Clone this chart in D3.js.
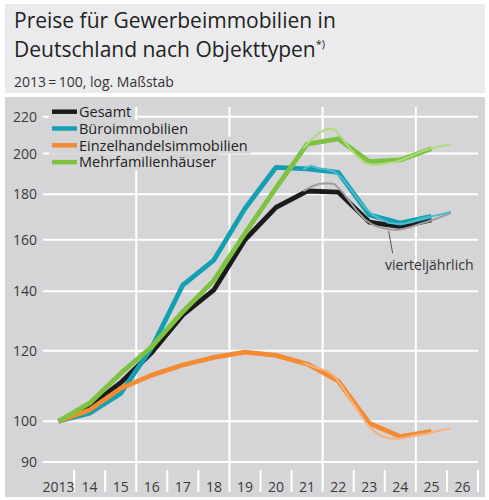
<!DOCTYPE html>
<html>
<head>
<meta charset="utf-8">
<script src="https://cdn.jsdelivr.net/npm/d3@7"></script>
<style>
  body { margin: 0; background: #fff; }
  text { font-family: "Open Sans", sans-serif; }
</style>
</head>
<body>
<div id="chart"></div>
<script>
// annual values, 2013 = 100
const years = [2013, 2014, 2015, 2016, 2017, 2018, 2019, 2020, 2021, 2022, 2023, 2024, 2025];
const gesamt = [100, 103.9, 110.5, 119.5, 131.7, 140.5, 160, 174, 181.5, 181, 167.5, 165.5, 168.4];
const buero = [100, 102.1, 107.5, 121, 142.3, 151.8, 173.5, 193, 192.2, 190.5, 170.6, 167, 170];
const einzel = [100, 103.0, 108.9, 112.7, 115.7, 118.0, 119.6, 118.6, 116.0, 111.0, 99.5, 96.1, 97.4];
const mehr = [100, 104.8, 113.2, 121.3, 132.8, 144, 162.7, 183, 204.9, 207.7, 195.8, 196.7, 202.5];

// quarterly values
const quarters = ["2021Q2", "2021Q3", "2021Q4", "2022Q1", "2022Q2", "2022Q3", "2022Q4",
  "2023Q1", "2023Q2", "2023Q3", "2023Q4", "2024Q1", "2024Q2", "2024Q3", "2024Q4",
  "2025Q1", "2025Q2", "2025Q3", "2025Q4", "2026Q1"];
const gesamtQ = [181.5, 183.5, 184.8, 185.2, 184.8, 181.2, 176.6, 172, 168.4, 166.2, 165.1, 164.4, 164.1, 164.6, 165.5, 166.7, 167.6, 168.8, 170.1, 171.4];
const bueroQ = [192, 193.8, 192.5, 192.0, 190.8, 187.6, 182.8, 178.1, 173.5, 170.6, 168.7, 167.2, 166.7, 166.9, 167.6, 168.7, 169.6, 170.3, 171.0, 172.0];
const einzelQ = [116.3, 115.4, 114.6, 114.0, 112.4, 109.4, 106.1, 103, 99.9, 97.6, 96.3, 95.7, 95.6, 95.8, 96.3, 96.6, 96.9, 97.4, 97.8, 98.2];
const mehrQ = [202.7, 207.1, 210.8, 213.1, 213, 208, 202.7, 198.4, 195, 194.2, 194.5, 195.3, 195.8, 197.2, 198.9, 200.6, 202.2, 203.2, 204.1, 204.9];

const yTicks = [90, 100, 120, 140, 160, 180, 200, 220];
const xLabels = ["2013", "14", "15", "16", "17", "18", "19", "20", "21", "22", "23", "24", "25", "26"];

const series = [
  { name: "Gesamt", annual: gesamt, quarterly: gesamtQ, color: "#1b1b1b", light: "#9d9d9d" },
  { name: "Büroimmobilien", annual: buero, quarterly: bueroQ, color: "#159fb2", light: "#4fbccb" },
  { name: "Einzelhandelsimmobilien", annual: einzel, quarterly: einzelQ, color: "#f28b32", light: "#f8b178" },
  { name: "Mehrfamilienhäuser", annual: mehr, quarterly: mehrQ, color: "#7ec242", light: "#afdb7b" }
];

const W = 489, H = 500;
const plotBg = "#d5d5d7";

const svg = d3.select("#chart").append("svg")
  .attr("width", W)
  .attr("height", H);

// header panel
svg.append("rect")
  .attr("x", 5).attr("y", 4).attr("width", 480).attr("height", 89)
  .attr("fill", "#ebebed");

const title = svg.append("text")
  .attr("x", 14).attr("y", 28)
  .attr("font-size", 21)
  .attr("fill", "#222");
title.append("tspan").text("Preise für Gewerbeimmobilien in");
title.append("tspan").attr("x", 14).attr("dy", 29).text("Deutschland nach Objekttypen");
title.append("tspan").attr("font-size", 11).attr("dy", -9).text("*)");

svg.append("text")
  .attr("x", 14).attr("y", 87)
  .attr("font-size", 14)
  .attr("fill", "#333")
  .text("2013\u2009=\u2009100, log. Maßstab");

// plot panel
svg.append("rect")
  .attr("x", 5).attr("y", 97).attr("width", 480).attr("height", 400)
  .attr("fill", plotBg);

const x = d3.scaleLinear().domain([2013, 2027]).range([43, 478]);
const y = d3.scaleLog().domain([90, 220]).range([462, 116.7]);

// horizontal grid + y labels
svg.append("g")
  .selectAll("line")
  .data(yTicks)
  .join("line")
  .attr("x1", x(2013)).attr("x2", x(2027))
  .attr("y1", d => y(d)).attr("y2", d => y(d))
  .attr("stroke", "#fff").attr("stroke-width", 2);

svg.append("g")
  .selectAll("text")
  .data(yTicks)
  .join("text")
  .attr("x", 37)
  .attr("y", d => y(d))
  .attr("dy", "0.36em")
  .attr("text-anchor", "end")
  .attr("font-size", 14)
  .attr("fill", "#3a3a3a")
  .text(d => d);

// x separators and long vertical grid lines
const bounds = d3.range(2014, 2028);
svg.append("g")
  .selectAll("line")
  .data(bounds)
  .join("line")
  .attr("x1", d => x(d)).attr("x2", d => x(d))
  .attr("y1", d => (d - 2013) % 3 === 0 ? 107 : 470)
  .attr("y2", 492)
  .attr("stroke", "#fff").attr("stroke-width", 2);

svg.append("g")
  .selectAll("text")
  .data(xLabels)
  .join("text")
  .attr("x", (d, i) => x(2013 + i + 0.5))
  .attr("y", 492)
  .attr("text-anchor", "middle")
  .attr("font-size", 14)
  .attr("fill", "#3a3a3a")
  .text(d => d);

// legend (row backgrounds hide the grid)
const legend = svg.append("g");
const rowH = 16.8, legTop = 111.7;
series.forEach((s, i) => {
  const cy = legTop + i * rowH;
  const bg = legend.append("rect").attr("fill", plotBg);
  legend.append("line")
    .attr("x1", 52).attr("x2", 77)
    .attr("y1", cy).attr("y2", cy)
    .attr("stroke", s.color).attr("stroke-width", 4.5);
  const t = legend.append("text")
    .attr("x", 79).attr("y", cy).attr("dy", "0.36em")
    .attr("font-size", 14.5).attr("fill", "#222")
    .text(s.name);
  const w = t.node().getComputedTextLength();
  bg.attr("x", 49).attr("y", cy - rowH / 2).attr("width", 79 + w + 3 - 49).attr("height", rowH);
});

const qx = q => +q.slice(0, 4) + (+q.slice(5) - 0.5) / 4;

const lineA = d3.line()
  .x((d, i) => x(years[i] + 0.5))
  .y(d => y(d));
const lineQ = d3.line()
  .x((d, i) => x(qx(quarters[i])))
  .y(d => y(d));

series.forEach(s => {
  svg.append("path")
    .datum(s.annual)
    .attr("d", lineA)
    .attr("fill", "none")
    .attr("stroke", s.color)
    .attr("stroke-width", 4.8)
    .attr("stroke-linejoin", "round");
});
series.forEach(s => {
  svg.append("path")
    .datum(s.quarterly)
    .attr("d", lineQ)
    .attr("fill", "none")
    .attr("stroke", s.light)
    .attr("stroke-width", 2)
    .attr("stroke-linejoin", "round");
});

// annotation
const ax = x(qx("2024Q1")), ay = y(164.4) + 2;
svg.append("line")
  .attr("x1", ax).attr("y1", ay)
  .attr("x2", ax + 4).attr("y2", ay + 22)
  .attr("stroke", "#555").attr("stroke-width", 1);
svg.append("text")
  .attr("x", 385).attr("y", 270)
  .attr("font-size", 14).attr("fill", "#333")
  .text("vierteljährlich");
</script>
</body>
</html>
